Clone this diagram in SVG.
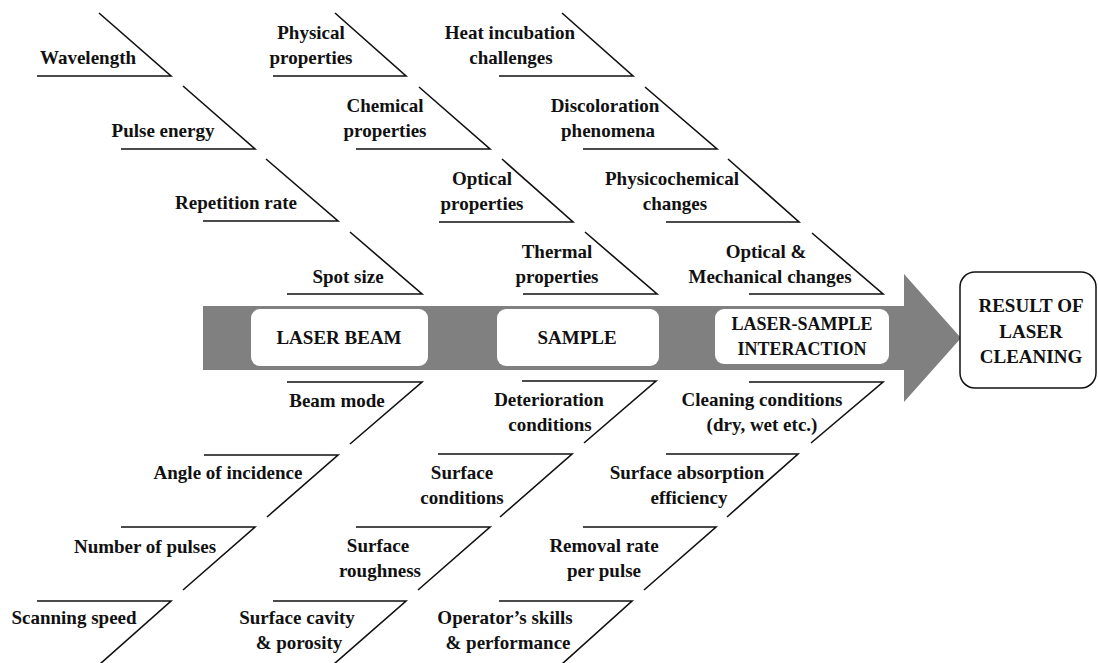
<svg xmlns="http://www.w3.org/2000/svg" width="1098" height="663" viewBox="0 0 1098 663">
<style>
.t{font-family:"Liberation Serif","Times New Roman",serif;font-weight:bold;font-size:19px;fill:#111;text-anchor:middle}
.s{font-size:18px}
.br{fill:none;stroke:#111;stroke-width:1.6}
.in{fill:#fff;stroke:none}
</style>
<rect width="1098" height="663" fill="#fff"/>
<g id="spine">
<polygon points="203,306 904,306 904,274 961,338 904,402 904,370 203,370" fill="#808080"/>
</g>
<g id="connectors">
<polyline class="br" points="37,76 171,76 99,13"/>
<polyline class="br" points="121,149 255,149 183,86"/>
<polyline class="br" points="203,221 338,221 266,159"/>
<polyline class="br" points="287,294 422,294 350,232"/>
<polyline class="br" points="273,76 406,76 335,13"/>
<polyline class="br" points="356,149 490,149 419,87"/>
<polyline class="br" points="439,222 573,222 502,159"/>
<polyline class="br" points="523,294 657,294 585,232"/>
<polyline class="br" points="499,76 633,76 562,13"/>
<polyline class="br" points="583,149 717,149 645,87"/>
<polyline class="br" points="666,222 799,222 728,159"/>
<polyline class="br" points="749,294 883,294 812,233"/>
<polyline class="br" points="287,382 422,382 350,444"/>
<polyline class="br" points="204,455 338,455 267,517"/>
<polyline class="br" points="121,527 255,527 183,590"/>
<polyline class="br" points="37,601 171,601 100,664"/>
<polyline class="br" points="522,381 656,381 584,443"/>
<polyline class="br" points="438,454 572,454 500,517"/>
<polyline class="br" points="356,527 490,527 418,590"/>
<polyline class="br" points="273,601 406,601 334,664"/>
<polyline class="br" points="749,382 883,382 811,443"/>
<polyline class="br" points="666,454 798,454 727,517"/>
<polyline class="br" points="583,527 716,527 644,590"/>
<polyline class="br" points="499,601 632,601 562,664"/>
</g>
<g id="laser-beam"><rect class="in" x="251" y="309" width="177" height="57" rx="9"/><text class="t" x="339" y="344">LASER BEAM</text></g>
<g id="sample"><rect class="in" x="497" y="309" width="162" height="57" rx="9"/><text class="t" x="577" y="344">SAMPLE</text></g>
<g id="interaction"><rect class="in" x="715" y="309" width="174" height="55" rx="9"/><text class="t s" x="802" y="330">LASER-SAMPLE</text><text class="t s" x="802" y="355">INTERACTION</text></g>
<g id="result"><rect x="960" y="272" width="136" height="116" rx="15" fill="#fff" stroke="#111" stroke-width="1.5"/><text class="t" x="1031" y="312">RESULT OF</text><text class="t" x="1031" y="338">LASER</text><text class="t" x="1031" y="363">CLEANING</text></g>
<g id="wavelength"><text class="t" x="88" y="64">Wavelength</text></g>
<g id="pulse-energy"><text class="t" x="163" y="137">Pulse energy</text></g>
<g id="repetition-rate"><text class="t" x="236" y="209">Repetition rate</text></g>
<g id="spot-size"><text class="t" x="348" y="283">Spot size</text></g>
<g id="physical"><text class="t" x="311" y="39">Physical</text><text class="t" x="311" y="64">properties</text></g>
<g id="chemical"><text class="t" x="385" y="112">Chemical</text><text class="t" x="385" y="137">properties</text></g>
<g id="optical"><text class="t" x="482" y="185">Optical</text><text class="t" x="482" y="210">properties</text></g>
<g id="thermal"><text class="t" x="557" y="258">Thermal</text><text class="t" x="557" y="283">properties</text></g>
<g id="heat"><text class="t" x="510" y="39">Heat incubation</text><text class="t" x="511" y="64">challenges</text></g>
<g id="discoloration"><text class="t" x="605" y="112">Discoloration</text><text class="t" x="608" y="137">phenomena</text></g>
<g id="physicochemical"><text class="t" x="672" y="185">Physicochemical</text><text class="t" x="675" y="210">changes</text></g>
<g id="opt-mech"><text class="t" x="766" y="258">Optical &amp;</text><text class="t" x="770" y="283">Mechanical changes</text></g>
<g id="beam-mode"><text class="t" x="337" y="407">Beam mode</text></g>
<g id="angle"><text class="t" x="228" y="479">Angle of incidence</text></g>
<g id="number-pulses"><text class="t" x="145" y="553">Number of pulses</text></g>
<g id="scanning-speed"><text class="t" x="74" y="624">Scanning speed</text></g>
<g id="deterioration"><text class="t" x="549" y="406">Deterioration</text><text class="t" x="550" y="431">conditions</text></g>
<g id="surface-conditions"><text class="t" x="462" y="479">Surface</text><text class="t" x="462" y="504">conditions</text></g>
<g id="roughness"><text class="t" x="378" y="552">Surface</text><text class="t" x="380" y="577">roughness</text></g>
<g id="cavity"><text class="t" x="297" y="624">Surface cavity</text><text class="t" x="299" y="649">&amp; porosity</text></g>
<g id="cleaning-conditions"><text class="t" x="762" y="406">Cleaning conditions</text><text class="t" x="762" y="431">(dry, wet etc.)</text></g>
<g id="absorption"><text class="t" x="687" y="479">Surface absorption</text><text class="t" x="689" y="504">efficiency</text></g>
<g id="removal"><text class="t" x="604" y="552">Removal rate</text><text class="t" x="604" y="577">per pulse</text></g>
<g id="operator"><text class="t" x="505" y="624">Operator’s skills</text><text class="t" x="508" y="649">&amp; performance</text></g>
</svg>
